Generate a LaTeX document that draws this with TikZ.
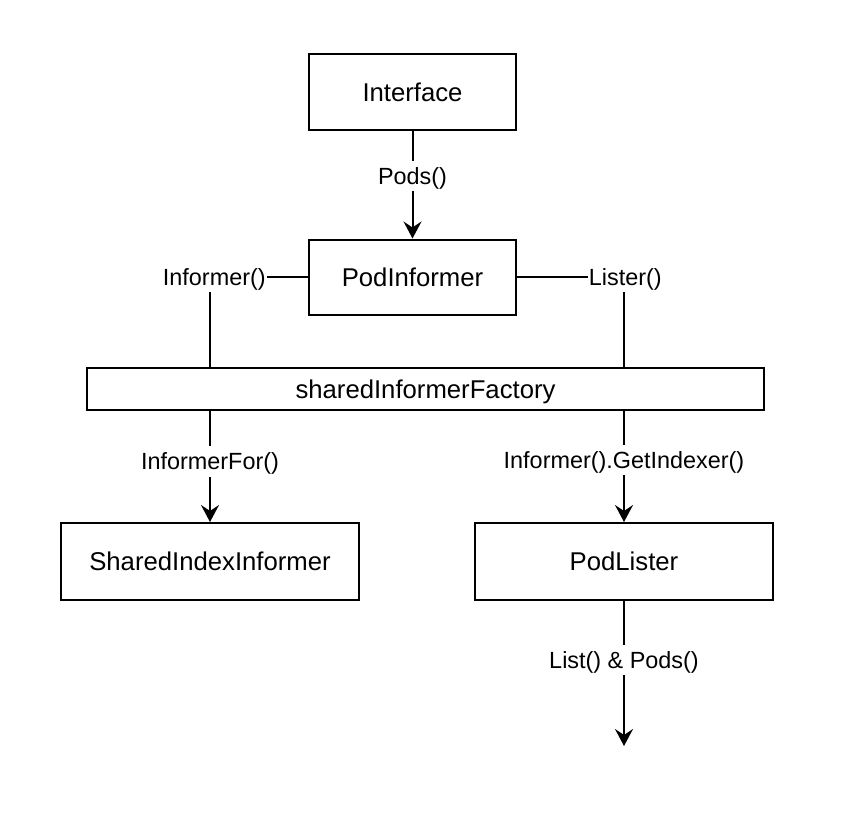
\documentclass[tikz,border=0pt]{standalone}
\usepackage{fontspec}
\setmainfont{Liberation Sans}
\usetikzlibrary{arrows.meta}
\begin{document}
\begin{tikzpicture}[x=1pt,y=-1pt,
  box/.style={draw, fill=white, line width=2pt, inner sep=0pt,
    font=\fontsize{25.7}{30}\selectfont, text height=18.4pt, text depth=0pt},
  lbl/.style={fill=white, inner xsep=1pt, inner ysep=2pt,
    font=\fontsize{23.4}{28}\selectfont, text height=21.45pt, text depth=4.7pt},
  conn/.style={line width=2pt},
  arr/.style={conn, -{Stealth[length=17pt,width=18pt,inset=6pt]}}]
\useasboundingbox (0,0) rectangle (848,816);
\node[box, minimum width=207pt, minimum height=76pt] (iface) at (412.5,92) {Interface};
\node[box, minimum width=207pt, minimum height=75pt] (podinf) at (412.5,277) {PodInformer};
\node[box, minimum width=677pt, minimum height=42pt] (factory) at (425.5,389) {sharedInformerFactory};
\node[box, minimum width=298pt, minimum height=77pt] (sii) at (210,561.5) {SharedIndexInformer};
\node[box, minimum width=298pt, minimum height=77pt] (lister) at (624,561.5) {PodLister};
\coordinate (ftopL) at (210,368);
\coordinate (ftopR) at (624,368);
\coordinate (fbotL) at (210,410);
\coordinate (fbotR) at (624,410);
\coordinate (outend) at (624,746);
\draw[arr] (iface.south) -- (podinf.north) node[lbl, pos=0.42] (lpods) {Pods()};
\draw[conn] (podinf.west) -| (ftopL) node[lbl, pos=0.5, xshift=4.3pt] (linf) {Informer()};
\draw[conn] (podinf.east) -| (ftopR) node[lbl, pos=0.5, xshift=1.3pt] (llist) {Lister()};
\draw[arr] (fbotL) -- (sii.north) node[lbl, pos=0.46] (lif) {InformerFor()};
\draw[arr] (fbotR) -- (lister.north) node[lbl, pos=0.445] (lgi) {Informer().GetIndexer()};
\draw[arr] (lister.south) -- (outend) node[lbl, pos=0.405] (llp) {List() \& Pods()};
\end{tikzpicture}
\end{document}
